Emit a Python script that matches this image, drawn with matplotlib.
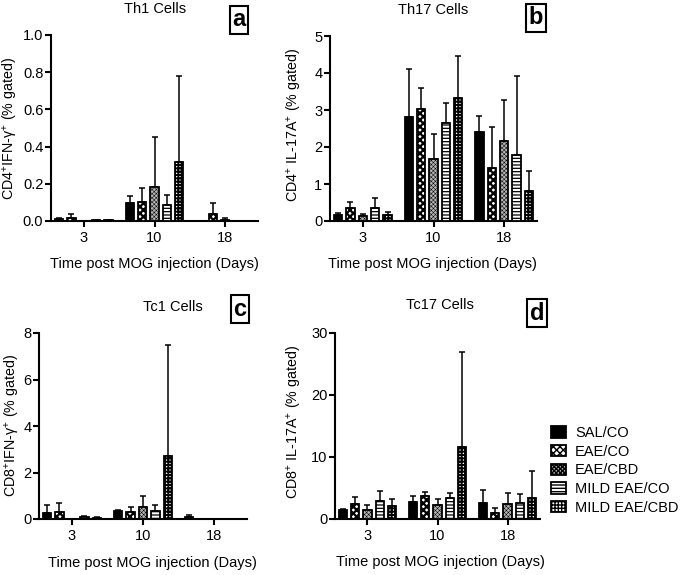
import matplotlib

matplotlib.use("Agg")
import matplotlib.pyplot as plt
import numpy as np

plt.rcParams["font.family"] = ["Liberation Sans", "DejaVu Sans"]
plt.rcParams["mathtext.fontset"] = "custom"
plt.rcParams["mathtext.rm"] = "Liberation Sans"
plt.rcParams["mathtext.default"] = "regular"

# ---- data ----
days = ["3", "10", "18"]
groups = ["SAL/CO", "EAE/CO", "EAE/CBD", "MILD EAE/CO", "MILD EAE/CBD"]

# mean per group (rows) and day (cols); err = upper error bar length
th1_mean = [[0.010, 0.095, 0.0], [0.018, 0.100, 0.035], [0.0, 0.185, 0.005],
            [0.005, 0.085, 0.0], [0.005, 0.315, 0.0]]
th1_err = [[0.005, 0.040, 0.0], [0.022, 0.075, 0.060], [0.0, 0.265, 0.013],
           [0.003, 0.055, 0.0], [0.002, 0.465, 0.0]]

th17_mean = [[0.15, 2.80, 2.40], [0.34, 3.03, 1.42], [0.13, 1.68, 2.16],
             [0.34, 2.64, 1.78], [0.17, 3.32, 0.81]]
th17_err = [[0.07, 1.31, 0.44], [0.18, 0.57, 1.11], [0.07, 0.68, 1.10],
            [0.28, 0.56, 2.13], [0.08, 1.15, 0.53]]

tc1_mean = [[0.25, 0.35, 0.07], [0.30, 0.32, 0.0], [0.02, 0.53, 0.0],
            [0.09, 0.36, 0.0], [0.06, 2.70, 0.0]]
tc1_err = [[0.34, 0.02, 0.10], [0.38, 0.18, 0.0], [0.0, 0.45, 0.0],
           [0.02, 0.23, 0.0], [0.01, 4.80, 0.0]]

tc17_mean = [[1.40, 2.70, 2.59], [2.48, 3.72, 0.97], [1.40, 2.27, 2.37],
             [2.91, 3.45, 2.59], [2.16, 11.6, 3.40]]
tc17_err = [[0.20, 1.08, 2.11], [1.08, 0.71, 0.86], [0.87, 0.97, 1.89],
            [1.57, 0.81, 1.51], [1.08, 15.3, 4.37]]

styles = [
    dict(facecolor="black", hatch=None, hlw=1.0),
    dict(facecolor="white", hatch="xxxxx", hlw=1.6),
    dict(facecolor="#b4b4b4", hatch="xxxxxxxx", hlw=0.35),
    dict(facecolor="white", hatch="-----", hlw=0.9),
    dict(facecolor="white", hatch="+++++", hlw=1.4),
]

W, H = 685, 575
GAP = 5.7       # distance between day groups, in bar slots
BAR_W = 0.67
MARGIN = 2.64


def rect(left, top, right, bottom):
    return [left / W, 1 - bottom / H, (right - left) / W, (bottom - top) / H]


def ftext(x, y, s, **kw):
    fig.text(x / W, 1 - y / H, s, ha="center", va="center", **kw)


def panel(ax, mean, err, ymax, yticks, fmt):
    centers = np.arange(len(days)) * GAP
    conts = []
    for i, (m, e) in enumerate(zip(mean, err)):
        x = centers + (i - 2)
        st = styles[i]
        with plt.rc_context({"hatch.linewidth": st["hlw"]}):
            c = ax.bar(x, m, width=BAR_W, color=st["facecolor"], hatch=st["hatch"],
                       edgecolor="black", linewidth=1.3, zorder=3, label=groups[i])
        conts.append(c)
        m = np.array(m)
        e = np.array(e)
        keep = e > 0
        ax.errorbar(x[keep], m[keep], yerr=[np.zeros(keep.sum()), e[keep]],
                    fmt="none", ecolor="black", elinewidth=1.1, capsize=2.2,
                    capthick=1.1, zorder=2)
    ax.set_xlim(-MARGIN, centers[-1] + MARGIN)
    ax.set_ylim(0, ymax)
    ax.set_xticks(centers)
    ax.set_xticklabels(days)
    ax.set_yticks(yticks)
    ax.set_yticklabels([fmt.format(t) for t in yticks])
    for s in ("top", "right"):
        ax.spines[s].set_visible(False)
    for s in ("left", "bottom"):
        ax.spines[s].set_linewidth(1.5)
    ax.tick_params(direction="out", length=4, width=1.5, labelsize=10.5, pad=1.5)
    ax.tick_params(axis="x", pad=3)
    return conts


fig = plt.figure(figsize=(W / 100, H / 100), dpi=100)

ax_a = fig.add_axes(rect(51, 35, 258, 221))
ax_b = fig.add_axes(rect(330, 36, 537, 221))
ax_c = fig.add_axes(rect(39, 333, 247, 519))
ax_d = fig.add_axes(rect(335, 333, 540, 519))

panel(ax_a, th1_mean, th1_err, 1.0, [0, 0.2, 0.4, 0.6, 0.8, 1.0], "{:.1f}")
panel(ax_b, th17_mean, th17_err, 5, [0, 1, 2, 3, 4, 5], "{:g}")
panel(ax_c, tc1_mean, tc1_err, 8, [0, 2, 4, 6, 8], "{:g}")
conts = panel(ax_d, tc17_mean, tc17_err, 30, [0, 10, 20, 30], "{:g}")

fs = 10.5
ftext(155, 9, "Th1 Cells", fontsize=fs)
ftext(433, 10, "Th17 Cells", fontsize=fs)
ftext(173, 307, "Tc1 Cells", fontsize=fs)
ftext(440, 305, "Tc17 Cells", fontsize=fs)

box = dict(boxstyle="square,pad=0.12", facecolor="white", edgecolor="black", linewidth=1.5)
ftext(239, 20, "a", fontsize=17, fontweight="bold", bbox=box)
ftext(536, 18, "b", fontsize=17, fontweight="bold", bbox=box)
ftext(240, 309, "c", fontsize=17, fontweight="bold", bbox=box)
ftext(537, 313, "d", fontsize=17, fontweight="bold", bbox=box)

xl = "Time post MOG injection (Days)"
ftext(154, 264, xl, fontsize=fs)
ftext(432, 264, xl, fontsize=fs)
ftext(152, 563, xl, fontsize=fs)
ftext(440, 562, xl, fontsize=fs)

ftext(10, 129, "CD4$^{+}$IFN-γ$^{+}$ (% gated)", fontsize=10.3, rotation=90)
ftext(295, 125, "CD4$^{+}$ IL-17A$^{+}$ (% gated)", fontsize=10.3, rotation=90)
ftext(13, 426, "CD8$^{+}$IFN-γ$^{+}$ (% gated)", fontsize=10.3, rotation=90)
ftext(295, 422, "CD8$^{+}$ IL-17A$^{+}$ (% gated)", fontsize=10.3, rotation=90)

fig.legend(conts, groups, loc="upper left", bbox_to_anchor=(551 / W, 1 - 426 / H),
           frameon=False, fontsize=fs, handlelength=1.05, handleheight=0.8,
           handletextpad=0.6, labelspacing=0.32, borderpad=0, borderaxespad=0)

fig.savefig("out.png", dpi=100)
